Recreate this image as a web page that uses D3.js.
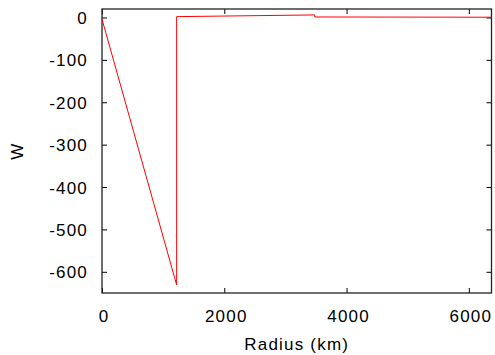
<!DOCTYPE html>
<meta charset="utf-8">
<script src="https://d3js.org/d3.v7.min.js"></script>
<style>
  body { margin: 0; background: #fff; }
  text { font-family: "Liberation Sans", Arial, sans-serif; }
</style>
<body>
<div id="canvas"></div>
<script>

	// radius (km) and W
	var radius = [0, 1221, 1221, 3480, 3480, 6371];
	var wValues = [-4, -631, 2, 6, 1.2, 0.6];
	var xTicks = [0, 2000, 4000, 6000];
	var yTicks = [0, -100, -200, -300, -400, -500, -600];

	var width = 495;
	var height = 355;
	var pLeft = 102, pRight = 491.5, pTop = 9, pBottom = 293;

	var svg = d3.select('#canvas')
		.append("svg")
		    .attr("width", width)
		    .attr("height", height);

	var x = d3.scaleLinear().domain([0, 6371]).range([pLeft, pRight]);
	var y = d3.scaleLinear().domain([-650, 20]).range([pBottom, pTop]);

	var fontSize = "17px";
	var spacing = "1.2px";
	// plain hyphen for negatives, like the original
	var fmt = function(d){ return String(d); };

	// bottom axis, ticks pointing inward
	var gx = svg.append("g")
		.attr("transform", "translate(0," + pBottom + ")")
		.call(d3.axisBottom(x).tickValues(xTicks).tickSize(-5).tickFormat(fmt));
	gx.select(".domain").remove();
	gx.selectAll("text")
		.attr("y", 29)
		.attr("dy", 0)
		.attr("dx", 1.5)
		.style("font-size", fontSize)
		.style("letter-spacing", spacing)
		.attr("fill", "#000");

	// top mirror ticks
	var gxt = svg.append("g")
		.attr("transform", "translate(0," + pTop + ")")
		.call(d3.axisTop(x).tickValues(xTicks).tickSize(-5).tickFormat(""));
	gxt.select(".domain").remove();

	// left axis
	var gy = svg.append("g")
		.attr("transform", "translate(" + pLeft + ",0)")
		.call(d3.axisLeft(y).tickValues(yTicks).tickSize(-5).tickFormat(fmt));
	gy.select(".domain").remove();
	gy.selectAll("text")
		.attr("x", -14)
		.attr("dy", "0.36em")
		.style("font-size", fontSize)
		.style("letter-spacing", spacing)
		.attr("fill", "#000");

	// right mirror ticks
	var gyr = svg.append("g")
		.attr("transform", "translate(" + pRight + ",0)")
		.call(d3.axisRight(y).tickValues(yTicks).tickSize(-5).tickFormat(""));
	gyr.select(".domain").remove();

	svg.selectAll(".tick line").attr("stroke", "#000").attr("stroke-width", 1);

	// frame
	svg.append("rect")
		.attr("x", pLeft)
		.attr("y", pTop)
		.attr("width", pRight - pLeft)
		.attr("height", pBottom - pTop)
		.attr("fill", "none")
		.attr("stroke", "#222")
		.attr("stroke-width", 1.3);

	// the curve
	var line = d3.line()
		.x(function(d){ return x(d[0]); })
		.y(function(d){ return y(d[1]); });

	svg.append("path")
		.datum(radius.map(function(r, i){ return [r, wValues[i]]; }))
		.attr("d", line)
		.attr("fill", "none")
		.attr("stroke", "#ff0000")
		.attr("stroke-width", 1);

	// axis titles
	svg.append("text")
		.attr("x", (pLeft + pRight) / 2)
		.attr("y", 350)
		.attr("text-anchor", "middle")
		.style("font-size", fontSize)
		.style("letter-spacing", spacing)
		.text("Radius (km)");

	svg.append("text")
		.attr("transform", "translate(23," + ((pTop + pBottom) / 2) + ") rotate(-90)")
		.attr("text-anchor", "middle")
		.style("font-size", fontSize)
		.style("letter-spacing", spacing)
		.text("W");

</script>
</body>
